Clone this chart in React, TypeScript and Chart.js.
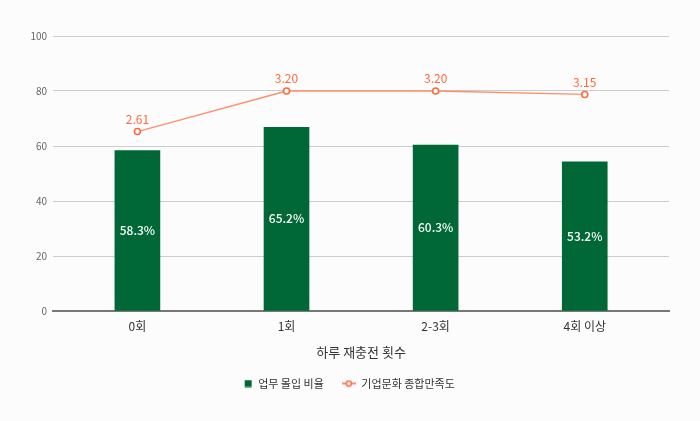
import React, { useEffect, useRef } from 'react';
import { Chart, registerables } from 'chart.js';

Chart.register(...registerables);

const categories = ['0회', '1회', '2-3회', '4회 이상'];
// bar heights as drawn; printed labels differ slightly from the heights
const immersionValues = [58.3, 66.8, 60.3, 54.2];
const immersionLabels = ['58.3%', '65.2%', '60.3%', '53.2%'];
const satisfactionValues = [2.61, 3.2, 3.2, 3.15];
const yTicks = [0, 20, 40, 60, 80, 100];

const GREEN = '#006837';
const ORANGE = '#ff6a3d';
const FONT = '"Noto Sans CJK KR", "Noto Sans", sans-serif';

function makeLegendIcon(kind: 'bar' | 'line') {
  const c = document.createElement('canvas');
  c.width = 14;
  c.height = 8;
  const g = c.getContext('2d')!;
  if (kind === 'bar') {
    g.fillStyle = GREEN;
    g.fillRect(6, 0.5, 7, 7);
  } else {
    g.strokeStyle = ORANGE;
    g.lineWidth = 1.5;
    g.beginPath();
    g.moveTo(0, 4);
    g.lineTo(14, 4);
    g.stroke();
    g.fillStyle = '#fff';
    g.beginPath();
    g.arc(7, 4, 2.6, 0, Math.PI * 2);
    g.fill();
    g.stroke();
  }
  return c;
}

const valueLabels = {
  id: 'valueLabels',
  afterDatasetsDraw(chart: any) {
    const ctx = chart.ctx;
    ctx.save();
    ctx.textAlign = 'center';
    ctx.textBaseline = 'middle';
    chart.getDatasetMeta(0).data.forEach((el: any, i: number) => {
      ctx.fillStyle = '#ffffff';
      ctx.font = `500 12px ${FONT}`;
      ctx.fillText(immersionLabels[i], el.x, (el.y + el.base) / 2);
    });
    chart.getDatasetMeta(1).data.forEach((el: any, i: number) => {
      ctx.fillStyle = ORANGE;
      ctx.font = `12px ${FONT}`;
      ctx.fillText(satisfactionValues[i].toFixed(2), el.x, el.y - 12.5);
    });
    ctx.restore();
  },
};

export default function App() {
  const canvasRef = useRef<HTMLCanvasElement>(null);
  const chartRef = useRef<Chart | null>(null);

  useEffect(() => {
    document.body.style.margin = '0';
    if (!canvasRef.current) return;
    const ctx = canvasRef.current.getContext('2d');
    if (!ctx) return;

    const barIcon = makeLegendIcon('bar');
    const lineIcon = makeLegendIcon('line');

    chartRef.current = new Chart(ctx, {
      type: 'bar',
      data: {
        datasets: [
          {
            type: 'bar',
            label: '업무 몰입 비율',
            data: immersionValues.map((v, i) => ({ x: i, y: v })),
            backgroundColor: GREEN,
            barThickness: 45,
            yAxisID: 'y',
            order: 2,
          },
          {
            type: 'line',
            label: '기업문화 종합만족도',
            data: satisfactionValues.map((v, i) => ({ x: i, y: v })),
            borderColor: '#ff8f6b',
            borderWidth: 1.3,
            pointBackgroundColor: '#ffffff',
            pointBorderColor: ORANGE,
            pointBorderWidth: 1.6,
            pointRadius: 3,
            yAxisID: 'y1',
            order: 1,
          } as any,
        ],
      },
      options: {
        animation: false,
        responsive: false,
        layout: { padding: { top: 36, left: 24.5, right: 31, bottom: 22 } },
        scales: {
          x: {
            type: 'linear',
            offset: false,
            min: -0.565,
            max: 3.565,
            afterBuildTicks: (scale: any) => {
              scale.ticks = categories.map((_, i) => ({ value: i }));
            },
            grid: { display: false, drawTicks: false },
            border: { color: '#777777', width: 2 },
            ticks: {
              autoSkip: false,
              maxRotation: 0,
              color: '#333333',
              font: { family: FONT, size: 12 },
              padding: 8,
              callback: (v: any) => categories[v] ?? '',
            },
            title: {
              display: true,
              text: '하루 재충전 횟수',
              color: '#333333',
              font: { family: FONT, size: 13 },
              padding: { top: 3, bottom: 0 },
            },
          },
          y: {
            min: 0,
            max: 100,
            afterBuildTicks: (scale: any) => {
              scale.ticks = yTicks.map((v) => ({ value: v }));
            },
            grid: { color: '#cccccc', drawTicks: false },
            border: { display: false },
            ticks: {
              color: '#666666',
              font: { family: FONT, size: 10 },
              padding: 6,
            },
          },
          y1: {
            display: false,
            min: 0,
            max: 4,
          },
        },
        plugins: {
          tooltip: { enabled: false },
          legend: {
            position: 'bottom',
            labels: {
              usePointStyle: true,
              pointStyleWidth: 14,
              color: '#333333',
              font: { family: FONT, size: 11 },
              padding: 18,
              generateLabels: () => [
                {
                  text: '업무 몰입 비율',
                  pointStyle: barIcon,
                  fillStyle: GREEN,
                  strokeStyle: GREEN,
                  lineWidth: 0,
                  hidden: false,
                  datasetIndex: 0,
                  fontColor: '#333333',
                } as any,
                {
                  text: '기업문화 종합만족도',
                  pointStyle: lineIcon,
                  fillStyle: '#fff',
                  strokeStyle: ORANGE,
                  lineWidth: 0,
                  hidden: false,
                  datasetIndex: 1,
                  fontColor: '#333333',
                } as any,
              ],
            },
          },
        },
      },
      plugins: [valueLabels],
    });

    return () => {
      if (chartRef.current) {
        chartRef.current.destroy();
        chartRef.current = null;
      }
    };
  }, []);

  return (
    <div style={{ width: 700, height: 421, background: '#fcfcfc' }}>
      <canvas ref={canvasRef} width={700} height={421} />
    </div>
  );
}
